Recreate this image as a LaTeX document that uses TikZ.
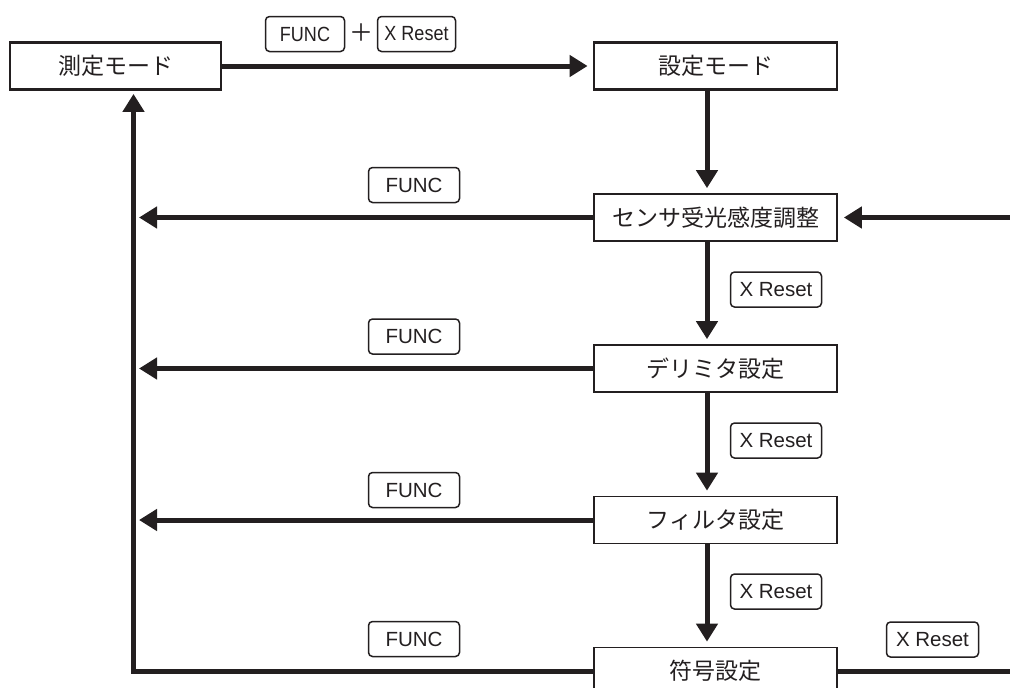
\documentclass[tikz,border=0pt]{standalone}
\usepackage{graphicx}
\usepackage{fontspec}
\setmainfont{Liberation Sans}
\newfontfamily\jp{Noto Sans CJK JP}
\usetikzlibrary{arrows.meta}
\definecolor{ink}{RGB}{35,31,32}
\newcommand{\narrowtxt}[1]{\scalebox{0.88}[1]{#1}}
\begin{document}
\begin{tikzpicture}[x=1pt,y=-1pt,
  every node/.style={text=ink},
  modebox/.style={draw=ink,line width=2.8pt,minimum height=47pt,inner sep=0pt,font=\jp\fontsize{23}{26}\selectfont},
  stepbox/.style={draw=ink,line width=1.7pt,minimum width=243pt,minimum height=47pt,inner sep=0pt,font=\jp\fontsize{23}{26}\selectfont},
  keybox/.style={draw=ink,line width=1.5pt,rounded corners=4pt,minimum height=35pt,inner sep=0pt,font=\fontsize{20.5}{23}\selectfont},
  flow/.style={draw=ink,line width=5pt,-{Triangle[length=18pt,width=21pt]}},
  plain/.style={draw=ink,line width=5pt},
]
\useasboundingbox (0,0) rectangle (1010,688);
\clip (0,0) rectangle (1010,688);

% mode boxes
\node[modebox,minimum width=211pt] (meas) at (115.5,66) {測定モード};
\node[modebox,minimum width=243pt] (set) at (715.5,66) {設定モード};

% step boxes
\node[stepbox] (sens) at (715.5,217.5) {センサ受光感度調整};
\node[stepbox] (deli) at (715.5,368.5) {デリミタ設定};
\node[stepbox] (filt) at (715.5,520) {フィルタ設定};
\node[stepbox] (code) at (715.5,671) {符号設定};

% key labels
\node[keybox,minimum width=79pt] (kf0) at (305,34) {\narrowtxt{FUNC}};
\node[font=\jp\fontsize{24}{26}\selectfont] (plus) at (361,33) {＋};
\node[keybox,minimum width=78pt] (kx0) at (416.5,34) {\narrowtxt{X Reset}};
\node[keybox,minimum width=91pt] (kf1) at (414,185) {FUNC};
\node[keybox,minimum width=91pt] (kf2) at (414,336.5) {FUNC};
\node[keybox,minimum width=91pt] (kf3) at (414,490) {FUNC};
\node[keybox,minimum width=91pt] (kf4) at (414,639) {FUNC};
\node[keybox,minimum width=91pt] (kx1) at (776,289.5) {X Reset};
\node[keybox,minimum width=91pt] (kx2) at (776,440.5) {X Reset};
\node[keybox,minimum width=91pt] (kx3) at (776,591.5) {X Reset};
\node[keybox,minimum width=92pt] (kx4) at (932.5,639.5) {X Reset};

% helper coordinates
\coordinate (vx) at (707,0);
\coordinate (lx) at (133.5,0);
\coordinate (rin) at (1015,217.5);
\coordinate (rout) at (1015,671);

% top arrow
\draw[flow,shorten >=5pt] (meas.east) -- (set.west);
% down arrows
\draw[flow,shorten >=5pt] (set.south -| vx) -- (sens.north -| vx);
\draw[flow,shorten >=5pt] (sens.south -| vx) -- (deli.north -| vx);
\draw[flow,shorten >=5pt] (deli.south -| vx) -- (filt.north -| vx);
\draw[flow,shorten >=5pt] (filt.south -| vx) -- (code.north -| vx);
% right entry
\draw[flow,shorten >=6pt] (rin) -- (sens.east);
% returns
\draw[flow,shorten >=3pt] (code.west) -- (code.west -| lx) -- (lx |- meas.south);
\draw[flow,shorten >=3pt] (sens.west) -- ([xshift=2.5pt]sens.west -| lx);
\draw[flow,shorten >=3pt] (deli.west) -- ([xshift=2.5pt]deli.west -| lx);
\draw[flow,shorten >=3pt] (filt.west) -- ([xshift=2.5pt]filt.west -| lx);
% bottom exit
\draw[plain] (code.east) -- (rout);
\end{tikzpicture}
\end{document}
